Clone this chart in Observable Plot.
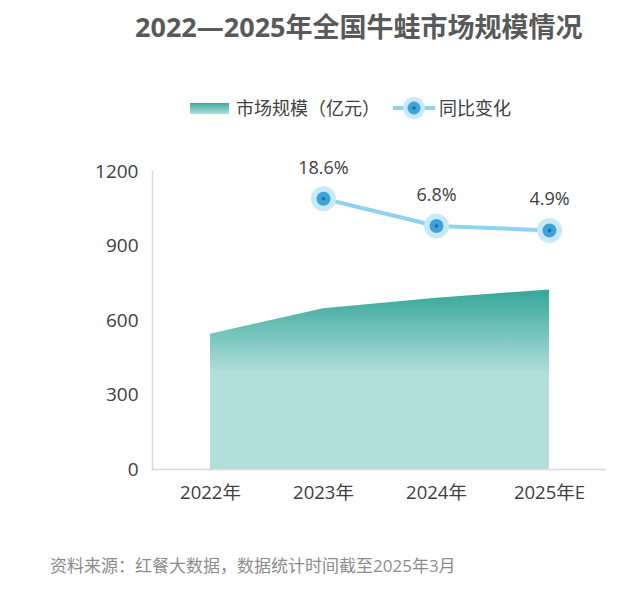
<!DOCTYPE html>
<html>
<head>
<meta charset="utf-8">
<script src="https://cdn.jsdelivr.net/npm/d3@7"></script>
<script src="https://cdn.jsdelivr.net/npm/@observablehq/plot@0.6"></script>
<style>
  body { margin: 0; background: #fff; font-family: "Open Sans", "Noto Sans CJK SC", sans-serif; }
  #page { position: relative; width: 630px; height: 590px; overflow: hidden; background: #fff; }
  #title { position: absolute; left: 135px; top: 9px; font-size: 27px; font-weight: bold; color: #595959; white-space: nowrap; line-height: 36px; }
  #legend { position: absolute; left: 190px; top: 96px; height: 24px; display: flex; align-items: center; font-size: 18px; color: #404040; white-space: nowrap; line-height: 24px; }
  #legend .sw { width: 39px; height: 11px; background: linear-gradient(to bottom, #3aa99c, #b2dfdc); margin-right: 7px; }
  #legend .ln { margin-left: 13px; margin-right: 4px; }
  #chart { position: absolute; left: 0; top: 140px; }
  #footer { position: absolute; left: 50px; top: 554px; font-size: 17px; color: #8c8c8c; white-space: nowrap; line-height: 24px; }
</style>
</head>
<body>
<div id="page">
  <div id="title">2022—2025年全国牛蛙市场规模情况</div>
  <div id="legend">
    <div class="sw"></div><span>市场规模（亿元）</span>
    <svg class="ln" width="42" height="26" viewBox="0 0 42 26">
      <line x1="0" y1="13" x2="42" y2="13" stroke="#8fd3ee" stroke-width="4"/>
      <circle cx="21" cy="13" r="11" fill="#c8e9f6"/>
      <circle cx="21" cy="13" r="6.5" fill="#3ea3d8"/>
      <circle cx="21" cy="13" r="1.8" fill="#1a6ea6"/>
    </svg><span>同比变化</span>
  </div>
  <div id="chart"></div>
  <div id="footer">资料来源：红餐大数据，数据统计时间截至2025年3月</div>
</div>
<script>
// ---- data ----
const years = ["2022年", "2023年", "2024年", "2025年E"];
const marketSize = [545, 647, 690, 723];           // 亿元
const growthYears = ["2023年", "2024年", "2025年E"];
const growthRates = [18.6, 6.8, 4.9];              // %
const yTicks = [0, 300, 600, 900, 1200];
// secondary (hidden) axis for growth: growth value at bottom / top of the primary axis
const growthAxisMin = -98.6, growthAxisMax = 30.4;

const sizeData = years.map((y, i) => ({year: y, value: marketSize[i]}));
const growthData = growthYears.map((y, i) => ({year: y, g: growthRates[i]}));
const yMax = yTicks[yTicks.length - 1];
const gToY = d => (d.g - growthAxisMin) / (growthAxisMax - growthAxisMin) * yMax;

const plot = Plot.plot({
  width: 630,
  height: 374,
  marginLeft: 152,
  marginRight: 24,
  marginTop: 31,
  marginBottom: 45,
  style: {fontFamily: '"Open Sans", "Noto Sans CJK SC", sans-serif', color: "#404040", background: "transparent"},
  x: {type: "point", domain: years, padding: 0.5},
  y: {domain: [0, yMax]},
  marks: [
    Plot.areaY(sizeData, {x: "year", y: "value", fill: "url(#areaGrad)"}),
    Plot.frame({anchor: "left", stroke: "#d9d9d9", strokeWidth: 1.5}),
    Plot.ruleY([0], {stroke: "#d9d9d9", strokeWidth: 1.5}),
    Plot.axisY({ticks: yTicks, tickFormat: d => String(d), tickSize: 0, tickPadding: 14, fontSize: 19, label: null}),
    Plot.axisX({tickSize: 0, tickPadding: 16, fontSize: 18.5, label: null}),
    Plot.line(growthData, {x: "year", y: gToY, stroke: "#8fd3ee", strokeWidth: 4}),
    Plot.dot(growthData, {x: "year", y: gToY, r: 12.5, fill: "#c8e9f6"}),
    Plot.dot(growthData, {x: "year", y: gToY, r: 7, fill: "#3ea3d8"}),
    Plot.dot(growthData, {x: "year", y: gToY, r: 1.8, fill: "#1a6ea6"}),
    Plot.text(growthData, {x: "year", y: gToY, text: d => d.g.toFixed(1) + "%", dy: -31, fontSize: 18, fill: "#404040"})
  ]
});

const defs = d3.select(plot).insert("defs", ":first-child");
const grad = defs.append("linearGradient").attr("id", "areaGrad")
  .attr("x1", 0).attr("y1", 0).attr("x2", 0).attr("y2", 1);
grad.append("stop").attr("offset", "0").attr("stop-color", "#34a699");
grad.append("stop").attr("offset", "0.47").attr("stop-color", "#b2dfdc");
grad.append("stop").attr("offset", "1").attr("stop-color", "#b2dfdc");

document.getElementById("chart").appendChild(plot);
</script>
</body>
</html>
